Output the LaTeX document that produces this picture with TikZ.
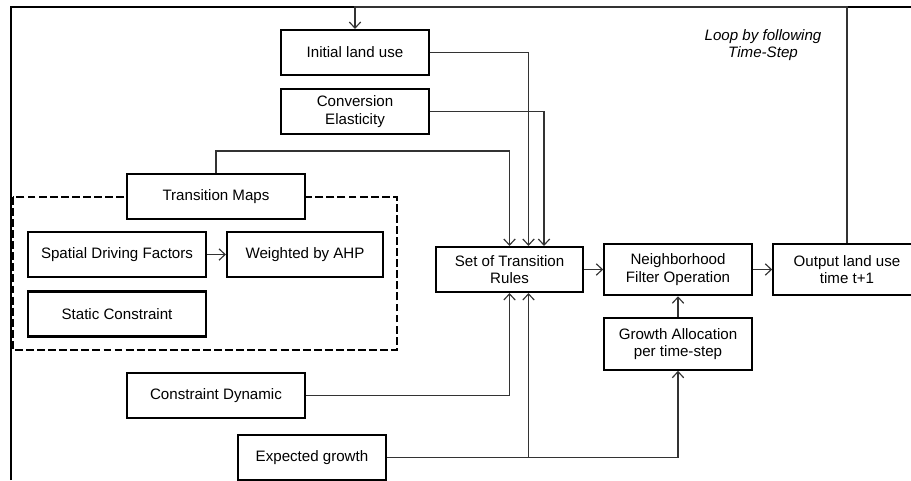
\documentclass[tikz,border=0pt]{standalone}
\usepackage{fontspec}
\setmainfont{Liberation Sans}
\usetikzlibrary{arrows.meta}

\begin{document}
\begin{tikzpicture}[x=0.02cm,y=-0.02cm,
    ubox/.style={draw,line width=1.2pt,fill=white,align=center,
      minimum width=2.95cm,minimum height=0.9cm,inner sep=1pt,
      font=\fontsize{8.6}{10}\selectfont},
    wbox/.style={ubox,minimum width=3.56cm},
    tallbox/.style={ubox,minimum height=1.03cm},
    flow/.style={-{Straight Barb[length=3.5pt,width=6.5pt]},line width=0.65pt,black!80}]
    \clip (0,0) rectangle (911,480);
    % Frame
    \draw[line width=1.2pt] (11,480) -- (11,7) -- (911,7);
    % Transition map group
    \draw[dashed,dash pattern=on 4.5pt off 1.8pt,line width=1.1pt] (13,197) rectangle (397,350);
    % Inputs
    \node[ubox] (init) at (355,52.5) {Initial land use};
    \node[ubox] (conv) at (355,111.5) {Conversion\\Elasticity};
    \node[wbox] (tmaps) at (216,196.5) {Transition Maps};
    \node[wbox] (spatial) at (117,254.5) {Spatial Driving Factors};
    \node[ubox,minimum width=3.12cm] (ahp) at (305,254.5) {Weighted by AHP};
    \node[wbox] (static) at (117,314) {Static Constraint};
    \node[wbox] (cdyn) at (216,395.5) {Constraint Dynamic};
    \node[ubox] (expg) at (312,457.5) {Expected growth};
    % Model
    \node[ubox] (rules) at (509.5,269.5) {Set of Transition\\Rules};
    \node[tallbox] (nbh) at (678,269.5) {Neighborhood\\Filter Operation};
    \node[tallbox] (growth) at (678,344) {Growth Allocation\\per time-step};
    \node[tallbox] (output) at (847,269.5) {Output land use\\time t+1};
    % Label
    \node[align=center,font=\fontsize{8.6}{10}\selectfont\itshape] (loop) at (763,45) {Loop by following\\Time-Step};
    % Connectors
    \coordinate (top) at (355,7);
    \draw[flow] (output.north) |- (top) -- (init.north);
    \draw[flow] (init.east) -| ([xshift=0.38cm]rules.north);
    \draw[flow] (conv.east) -| ([xshift=0.69cm]rules.north);
    \draw[flow] (tmaps.north) -- ++(0,-22) -| (rules.north);
    \draw[flow] (spatial) -- (ahp);
    \draw[flow] (cdyn.east) -| (rules.south);
    \draw[flow] (expg.east) -| ([xshift=0.38cm]rules.south);
    \draw[flow] (expg.east) -| (growth.south);
    \draw[flow] (rules) -- (nbh);
    \draw[flow] (growth) -- (nbh);
    \draw[flow] (nbh) -- (output);
\end{tikzpicture}
\end{document}
